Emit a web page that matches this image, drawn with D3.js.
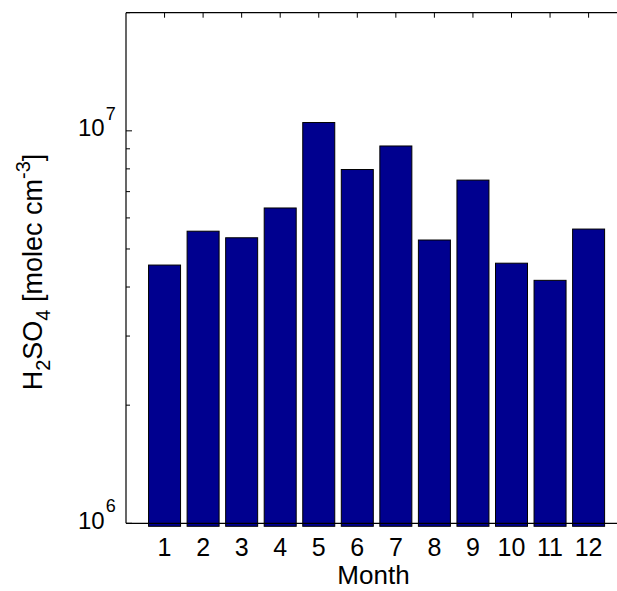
<!DOCTYPE html>
<html>
<head>
<meta charset="utf-8">
<script src="https://cdn.jsdelivr.net/npm/d3@7"></script>
<style>
  body { margin: 0; background: #fff; }
  svg text { font-family: "Liberation Sans", Arial, sans-serif; fill: #000; }
</style>
</head>
<body>
<div id="chart"></div>
<script>
// données (moyenne mensuelle)
var months = [1, 2, 3, 4, 5, 6, 7, 8, 9, 10, 11, 12];
var h2so4 = [4.55e6, 5.55e6, 5.34e6, 6.36e6, 1.05e7, 7.97e6, 9.15e6, 5.27e6, 7.49e6, 4.6e6, 4.16e6, 5.62e6];
var yTicks = [1e6, 1e7];
var yMinorTicks = [2e6, 3e6, 4e6, 5e6, 6e6, 7e6, 8e6, 9e6, 2e7];

var W = 617, H = 591;
var axLeft = 126, axTop = 12.7, axBottom = 523.3;
var step = 38.55;

var svg = d3.select("#chart").append("svg")
    .attr("width", W)
    .attr("height", H);

// axe x : positions 0..13 (la boîte dépasse à droite)
var x = d3.scaleLinear().domain([0, 13]).range([axLeft, axLeft + 13 * step]);
var y = d3.scaleLog().domain([1e6, 2e7]).range([axBottom, axTop]);

var barW = 32;

// barres
svg.append("g")
    .selectAll("rect")
    .data(months)
    .enter()
    .append("rect")
    .attr("x", function (d) { return x(d) - barW / 2; })
    .attr("y", function (d, i) { return y(h2so4[i]); })
    .attr("width", barW)
    .attr("height", function (d, i) { return axBottom + 3 - y(h2so4[i]); })
    .attr("fill", "#00008f")
    .attr("stroke", "#000")
    .attr("stroke-width", 1);

// cadre : gauche, haut, bas
var frame = svg.append("g").attr("stroke", "#000").attr("stroke-width", 1.2).attr("fill", "none");
frame.append("line").attr("x1", axLeft).attr("x2", axLeft).attr("y1", axTop).attr("y2", axBottom);
frame.append("line").attr("x1", axLeft).attr("x2", W).attr("y1", axTop).attr("y2", axTop);
frame.append("line").attr("x1", axLeft).attr("x2", W).attr("y1", axBottom).attr("y2", axBottom);

// ticks du haut
svg.append("g")
    .selectAll("line")
    .data(months)
    .enter()
    .append("line")
    .attr("x1", function (d) { return x(d); })
    .attr("x2", function (d) { return x(d); })
    .attr("y1", axTop)
    .attr("y2", axTop + 5)
    .attr("stroke", "#000");

// ticks majeurs et mineurs à gauche
svg.append("g")
    .selectAll("line")
    .data(yTicks.concat(yMinorTicks))
    .enter()
    .append("line")
    .attr("x1", axLeft)
    .attr("x2", function (d) { return axLeft + (yTicks.indexOf(d) >= 0 ? 6 : 4); })
    .attr("y1", function (d) { return y(d); })
    .attr("y2", function (d) { return y(d); })
    .attr("stroke", "#000");

// étiquettes x
svg.append("g")
    .selectAll("text")
    .data(months)
    .enter()
    .append("text")
    .attr("x", function (d) { return x(d); })
    .attr("y", 556)
    .attr("text-anchor", "middle")
    .attr("font-size", 25)
    .text(function (d) { return d; });

// étiquettes y (10^n)
var yl = svg.append("g")
    .selectAll("text")
    .data(yTicks)
    .enter()
    .append("text")
    .attr("x", 78)
    .attr("y", function (d) { return y(d) + 5.5; })
    .attr("font-size", 24);
yl.append("tspan").text("10");
yl.append("tspan")
    .attr("font-size", 18)
    .attr("dx", 1)
    .attr("dy", -16.5)
    .text(function (d) { return Math.round(Math.log10(d)); });

// titre x
svg.append("text")
    .attr("x", 373.5)
    .attr("y", 584)
    .attr("text-anchor", "middle")
    .attr("font-size", 26)
    .text("Month");

// titre y
var yt = svg.append("text")
    .attr("transform", "translate(42," + 272 + ") rotate(-90)")
    .attr("text-anchor", "middle")
    .attr("font-size", 27);
yt.append("tspan").text("H");
yt.append("tspan").attr("font-size", 20).attr("dy", 8).text("2");
yt.append("tspan").attr("dy", -8).text("SO");
yt.append("tspan").attr("font-size", 20).attr("dy", 8).text("4");
yt.append("tspan").attr("dy", -8).text(" [molec cm");
yt.append("tspan").attr("font-size", 20).attr("dy", -12).text("-3");
yt.append("tspan").attr("dy", 12).text("]");
</script>
</body>
</html>
